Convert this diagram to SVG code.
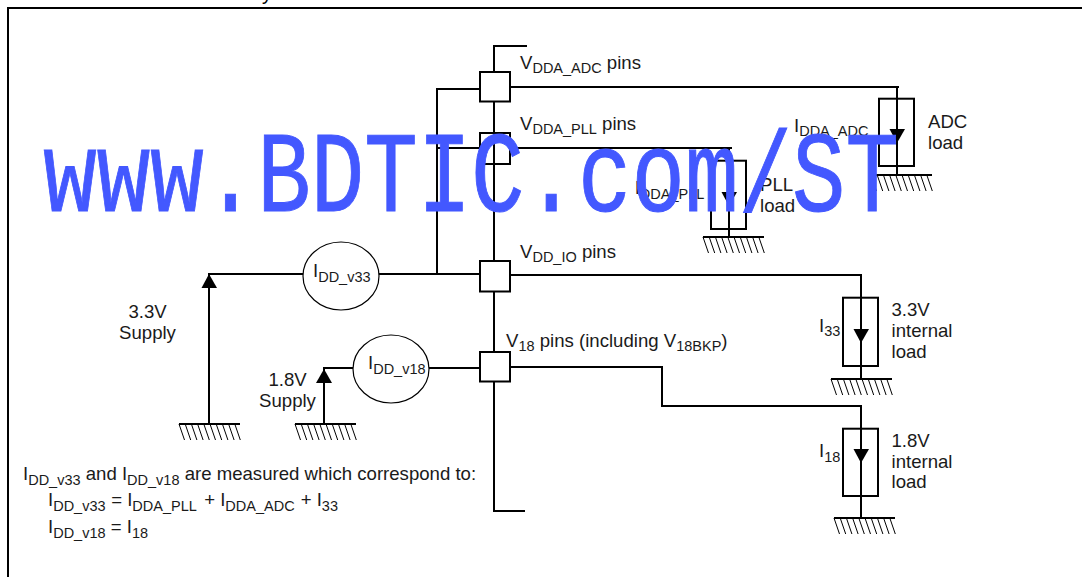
<svg xmlns="http://www.w3.org/2000/svg" xmlns:xlink="http://www.w3.org/1999/xlink" width="1082" height="577" viewBox="0 0 1082 577">
<style>
text{font-family:"Liberation Sans",Arial,sans-serif;font-size:18.6px;fill:#1a1a1a}
.s{font-size:14.5px}
.w{fill:none;stroke:#000;stroke-width:2}
.b{fill:#fff;stroke:#000;stroke-width:2}
.l{fill:none;stroke:#000;stroke-width:2}
.c{fill:#fff;stroke:#000;stroke-width:1.2}
.a{fill:#000}
text.wm{font-family:"Liberation Mono",monospace;font-size:115px;fill:#4358ff;stroke:#4358ff;stroke-width:1}
</style>
<defs>
<g id="gnd">
<path d="M0 0H61" fill="none" stroke="#000" stroke-width="2"/>
<path d="M0 0l5.5 16M6.2 0l5.5 16M12.4 0l5.5 16M18.6 0l5.5 16M24.8 0l5.5 16M31 0l5.500 16M37.2 0l5.500 16M43.4 0l5.500 16M49.6 0l5.500 16M55.8 0l5.500 16" fill="none" stroke="#000" stroke-width="1"/>
</g>
</defs>
<rect width="1082" height="577" fill="#fff"/>
<path id="frame" d="M8 577V8H1082" fill="none" stroke="#000" stroke-width="2"/>
<text x="262" y="0" style="font-size:20px;fill:#000">y</text>
<g id="connectors">
<path class="w" d="M527 46H494V511H525"/>
<path class="w" d="M480 89H437V275M437 148H480"/>
<path class="w" d="M209 424V274H303M379 274H480"/>
<path class="w" d="M324 424V368H353M429 368H480"/>
<path class="w" d="M510 87H899M897 87V175"/>
<path class="w" d="M510 148H732M729 148V237"/>
<path class="w" d="M510 275H862M861 275V379"/>
<path class="w" d="M510 367H662V406H861V518"/>
</g>
<g id="pin-adc"><rect class="b" x="480" y="72" width="30" height="29.500"/></g>
<g id="pin-pll"><rect class="l" x="480" y="133" width="30" height="31"/></g>
<g id="pin-io"><rect class="b" x="480" y="261" width="30" height="30.500"/></g>
<g id="pin-18"><rect class="b" x="480" y="352" width="30" height="29.500"/></g>
<g id="load-adc"><rect class="l" x="879" y="98.700" width="35" height="67.300"/><path class="a" d="M889.500 129H905L897 143Z"/></g>
<g id="load-pll"><rect class="l" x="711" y="160.700" width="35" height="68.300"/><path class="a" d="M721.500 192H737L729 206Z"/></g>
<g id="load-33"><rect class="l" x="843" y="297.700" width="35" height="68.300"/><path class="a" d="M853.500 329H869L861 343Z"/></g>
<g id="load-18"><rect class="l" x="843" y="428.700" width="35" height="67.300"/><path class="a" d="M853.500 449H869L861 463Z"/></g>
<g id="grounds">
<use xlink:href="#gnd" href="#gnd" x="179" y="424"/>
<use xlink:href="#gnd" href="#gnd" x="295" y="424"/>
<use xlink:href="#gnd" href="#gnd" x="871" y="175"/>
<use xlink:href="#gnd" href="#gnd" x="703" y="237"/>
<use xlink:href="#gnd" href="#gnd" x="831" y="379"/>
<use xlink:href="#gnd" href="#gnd" x="834" y="518"/>
</g>
<g id="supply-33"><path class="a" d="M201.500 288H217L209 274Z"/><text x="147.500" y="318" text-anchor="middle">3.3V</text><text x="147.500" y="339" text-anchor="middle">Supply</text></g>
<g id="supply-18"><path class="a" d="M316 383H332L324 369Z"/><text x="287.500" y="386" text-anchor="middle">1.8V</text><text x="287.500" y="407" text-anchor="middle">Supply</text></g>
<g id="meter-33"><ellipse class="c" cx="341" cy="276" rx="38" ry="34"/><text x="313" y="277">I<tspan class="s" dy="5">DD_v33</tspan></text></g>
<g id="meter-18"><ellipse class="c" cx="391" cy="369" rx="38" ry="34"/><text x="368" y="369">I<tspan class="s" dy="5">DD_v18</tspan></text></g>
<g id="labels">
<text x="520" y="69">V<tspan class="s" dy="4">DDA_ADC</tspan><tspan dy="-4"> pins</tspan></text>
<text x="520" y="130">V<tspan class="s" dy="4">DDA_PLL</tspan><tspan dy="-4"> pins</tspan></text>
<text x="520" y="258">V<tspan class="s" dy="4">DD_IO</tspan><tspan dy="-4"> pins</tspan></text>
<text x="506" y="347">V<tspan class="s" dy="4">18</tspan><tspan dy="-4"> pins (including V</tspan><tspan class="s" dy="4">18BKP</tspan><tspan dy="-4">)</tspan></text>
<text x="794" y="132">I<tspan class="s" dy="4">DDA_ADC</tspan></text>
<text x="928" y="128">ADC</text><text x="928" y="149">load</text>
<text x="634.700" y="194">I<tspan class="s" dy="5">DDA_PLL</tspan></text>
<text x="760" y="191">PLL</text><text x="760" y="212">load</text>
<text x="819" y="332">I<tspan class="s" dy="4">33</tspan></text>
<text x="891.500" y="316">3.3V</text><text x="891.500" y="337">internal</text><text x="891.500" y="358">load</text>
<text x="819" y="457">I<tspan class="s" dy="5">18</tspan></text>
<text x="891.500" y="447">1.8V</text><text x="891.500" y="468">internal</text><text x="891.500" y="488">load</text>
<text x="23" y="480">I<tspan class="s" dy="5">DD_v33</tspan><tspan dy="-5"> and I</tspan><tspan class="s" dy="5">DD_v18</tspan><tspan dy="-5"> are measured which correspond to:</tspan></text>
<text x="48" y="506">I<tspan class="s" dy="5">DD_v33</tspan><tspan x="106" dy="-5"> = I</tspan><tspan class="s" dy="5">DDA_PLL</tspan><tspan x="199" dy="-5"> + I</tspan><tspan class="s" dy="5">DDA_ADC</tspan><tspan x="295.500" dy="-5"> + I</tspan><tspan class="s" dy="5">33</tspan></text>
<text x="48" y="533">I<tspan class="s" dy="5">DD_v18</tspan><tspan dy="-5"> = I</tspan><tspan class="s" dy="5">18</tspan></text>
</g>
<text class="wm" transform="translate(0 211) scale(.775 1)" x="55.900" y="0">www.BDTIC.com/ST</text>
</svg>
